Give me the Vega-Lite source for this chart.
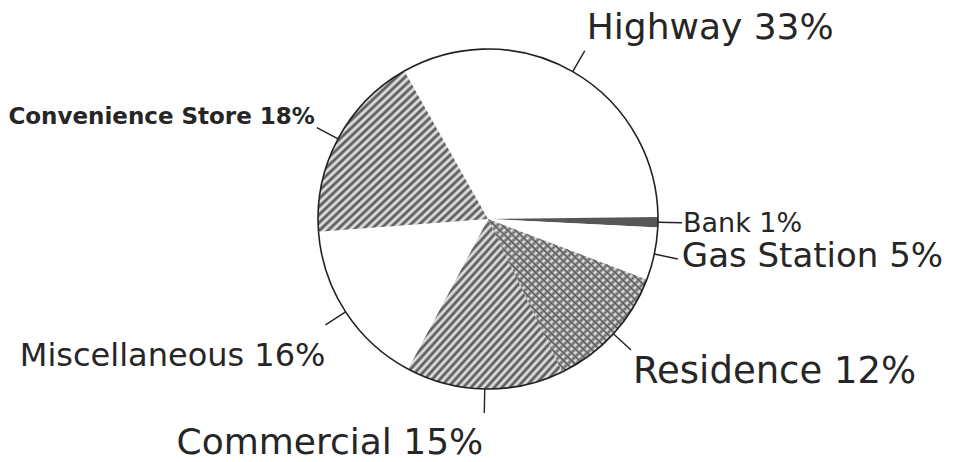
{
  "$schema": "https://vega.github.io/schema/vega-lite/v6.json",
  "width": 930,
  "height": 438,
  "autosize": "none",
  "padding": {"left": 23, "top": 0, "right": 0, "bottom": 24},
  "background": "white",
  "view": {"stroke": null},
  "data": {
    "values": [
      {"category": "Highway", "value": 33, "label": "Highway 33%", "rank": 1},
      {"category": "Bank", "value": 1, "label": "Bank 1%", "rank": 2},
      {"category": "Gas Station", "value": 5, "label": "Gas Station 5%", "rank": 3},
      {"category": "Residence", "value": 12, "label": "Residence 12%", "rank": 4},
      {"category": "Commercial", "value": 15, "label": "Commercial 15%", "rank": 5},
      {"category": "Miscellaneous", "value": 16, "label": "Miscellaneous 16%", "rank": 6},
      {"category": "Convenience Store", "value": 18, "label": "Convenience Store 18%", "rank": 7}
    ]
  },
  "encoding": {
    "theta": {"field": "value", "type": "quantitative", "stack": true, "scale": {"range": [-0.5149, 5.7683]}},
    "order": {"field": "rank", "type": "quantitative"}
  },
  "layer": [
    {
      "mark": {"type": "arc", "outerRadius": 170},
      "encoding": {
        "fill": {
          "condition": [
            {"test": "datum.category === 'Bank'", "value": "#575757"},
            {"test": "indexof(['Convenience Store','Commercial','Residence'], datum.category) >= 0", "value": {"gradient": "linear", "x1": 0, "y1": 0, "x2": 1, "y2": 1, "stops": [
              {"offset": 0, "color": "#4a4a4a"}, {"offset": 0.0125, "color": "#f2f2f2"}, {"offset": 0.025, "color": "#4a4a4a"}, {"offset": 0.0375, "color": "#f2f2f2"},
              {"offset": 0.05, "color": "#4a4a4a"}, {"offset": 0.0625, "color": "#f2f2f2"}, {"offset": 0.075, "color": "#4a4a4a"}, {"offset": 0.0875, "color": "#f2f2f2"},
              {"offset": 0.1, "color": "#4a4a4a"}, {"offset": 0.1125, "color": "#f2f2f2"}, {"offset": 0.125, "color": "#4a4a4a"}, {"offset": 0.1375, "color": "#f2f2f2"},
              {"offset": 0.15, "color": "#4a4a4a"}, {"offset": 0.1625, "color": "#f2f2f2"}, {"offset": 0.175, "color": "#4a4a4a"}, {"offset": 0.1875, "color": "#f2f2f2"},
              {"offset": 0.2, "color": "#4a4a4a"}, {"offset": 0.2125, "color": "#f2f2f2"}, {"offset": 0.225, "color": "#4a4a4a"}, {"offset": 0.2375, "color": "#f2f2f2"},
              {"offset": 0.25, "color": "#4a4a4a"}, {"offset": 0.2625, "color": "#f2f2f2"}, {"offset": 0.275, "color": "#4a4a4a"}, {"offset": 0.2875, "color": "#f2f2f2"},
              {"offset": 0.3, "color": "#4a4a4a"}, {"offset": 0.3125, "color": "#f2f2f2"}, {"offset": 0.325, "color": "#4a4a4a"}, {"offset": 0.3375, "color": "#f2f2f2"},
              {"offset": 0.35, "color": "#4a4a4a"}, {"offset": 0.3625, "color": "#f2f2f2"}, {"offset": 0.375, "color": "#4a4a4a"}, {"offset": 0.3875, "color": "#f2f2f2"},
              {"offset": 0.4, "color": "#4a4a4a"}, {"offset": 0.4125, "color": "#f2f2f2"}, {"offset": 0.425, "color": "#4a4a4a"}, {"offset": 0.4375, "color": "#f2f2f2"},
              {"offset": 0.45, "color": "#4a4a4a"}, {"offset": 0.4625, "color": "#f2f2f2"}, {"offset": 0.475, "color": "#4a4a4a"}, {"offset": 0.4875, "color": "#f2f2f2"},
              {"offset": 0.5, "color": "#4a4a4a"}, {"offset": 0.5125, "color": "#f2f2f2"}, {"offset": 0.525, "color": "#4a4a4a"}, {"offset": 0.5375, "color": "#f2f2f2"},
              {"offset": 0.55, "color": "#4a4a4a"}, {"offset": 0.5625, "color": "#f2f2f2"}, {"offset": 0.575, "color": "#4a4a4a"}, {"offset": 0.5875, "color": "#f2f2f2"},
              {"offset": 0.6, "color": "#4a4a4a"}, {"offset": 0.6125, "color": "#f2f2f2"}, {"offset": 0.625, "color": "#4a4a4a"}, {"offset": 0.6375, "color": "#f2f2f2"},
              {"offset": 0.65, "color": "#4a4a4a"}, {"offset": 0.6625, "color": "#f2f2f2"}, {"offset": 0.675, "color": "#4a4a4a"}, {"offset": 0.6875, "color": "#f2f2f2"},
              {"offset": 0.7, "color": "#4a4a4a"}, {"offset": 0.7125, "color": "#f2f2f2"}, {"offset": 0.725, "color": "#4a4a4a"}, {"offset": 0.7375, "color": "#f2f2f2"},
              {"offset": 0.75, "color": "#4a4a4a"}, {"offset": 0.7625, "color": "#f2f2f2"}, {"offset": 0.775, "color": "#4a4a4a"}, {"offset": 0.7875, "color": "#f2f2f2"},
              {"offset": 0.8, "color": "#4a4a4a"}, {"offset": 0.8125, "color": "#f2f2f2"}, {"offset": 0.825, "color": "#4a4a4a"}, {"offset": 0.8375, "color": "#f2f2f2"},
              {"offset": 0.85, "color": "#4a4a4a"}, {"offset": 0.8625, "color": "#f2f2f2"}, {"offset": 0.875, "color": "#4a4a4a"}, {"offset": 0.8875, "color": "#f2f2f2"},
              {"offset": 0.9, "color": "#4a4a4a"}, {"offset": 0.9125, "color": "#f2f2f2"}, {"offset": 0.925, "color": "#4a4a4a"}, {"offset": 0.9375, "color": "#f2f2f2"},
              {"offset": 0.95, "color": "#4a4a4a"}, {"offset": 0.9625, "color": "#f2f2f2"}, {"offset": 0.975, "color": "#4a4a4a"}, {"offset": 0.9875, "color": "#f2f2f2"},
              {"offset": 1, "color": "#4a4a4a"}
            ]}}
          ],
          "value": "white"
        }
      }
    },
    {
      "mark": {"type": "arc", "outerRadius": 170},
      "encoding": {
        "fill": {
          "condition": {"test": "datum.category === 'Residence'", "value": {"gradient": "linear", "x1": 0, "y1": 1, "x2": 1, "y2": 0, "stops": [
            {"offset": 0, "color": "#4a4a4a"}, {"offset": 0.0125, "color": "rgba(255,255,255,0)"}, {"offset": 0.025, "color": "#4a4a4a"}, {"offset": 0.0375, "color": "rgba(255,255,255,0)"},
            {"offset": 0.05, "color": "#4a4a4a"}, {"offset": 0.0625, "color": "rgba(255,255,255,0)"}, {"offset": 0.075, "color": "#4a4a4a"}, {"offset": 0.0875, "color": "rgba(255,255,255,0)"},
            {"offset": 0.1, "color": "#4a4a4a"}, {"offset": 0.1125, "color": "rgba(255,255,255,0)"}, {"offset": 0.125, "color": "#4a4a4a"}, {"offset": 0.1375, "color": "rgba(255,255,255,0)"},
            {"offset": 0.15, "color": "#4a4a4a"}, {"offset": 0.1625, "color": "rgba(255,255,255,0)"}, {"offset": 0.175, "color": "#4a4a4a"}, {"offset": 0.1875, "color": "rgba(255,255,255,0)"},
            {"offset": 0.2, "color": "#4a4a4a"}, {"offset": 0.2125, "color": "rgba(255,255,255,0)"}, {"offset": 0.225, "color": "#4a4a4a"}, {"offset": 0.2375, "color": "rgba(255,255,255,0)"},
            {"offset": 0.25, "color": "#4a4a4a"}, {"offset": 0.2625, "color": "rgba(255,255,255,0)"}, {"offset": 0.275, "color": "#4a4a4a"}, {"offset": 0.2875, "color": "rgba(255,255,255,0)"},
            {"offset": 0.3, "color": "#4a4a4a"}, {"offset": 0.3125, "color": "rgba(255,255,255,0)"}, {"offset": 0.325, "color": "#4a4a4a"}, {"offset": 0.3375, "color": "rgba(255,255,255,0)"},
            {"offset": 0.35, "color": "#4a4a4a"}, {"offset": 0.3625, "color": "rgba(255,255,255,0)"}, {"offset": 0.375, "color": "#4a4a4a"}, {"offset": 0.3875, "color": "rgba(255,255,255,0)"},
            {"offset": 0.4, "color": "#4a4a4a"}, {"offset": 0.4125, "color": "rgba(255,255,255,0)"}, {"offset": 0.425, "color": "#4a4a4a"}, {"offset": 0.4375, "color": "rgba(255,255,255,0)"},
            {"offset": 0.45, "color": "#4a4a4a"}, {"offset": 0.4625, "color": "rgba(255,255,255,0)"}, {"offset": 0.475, "color": "#4a4a4a"}, {"offset": 0.4875, "color": "rgba(255,255,255,0)"},
            {"offset": 0.5, "color": "#4a4a4a"}, {"offset": 0.5125, "color": "rgba(255,255,255,0)"}, {"offset": 0.525, "color": "#4a4a4a"}, {"offset": 0.5375, "color": "rgba(255,255,255,0)"},
            {"offset": 0.55, "color": "#4a4a4a"}, {"offset": 0.5625, "color": "rgba(255,255,255,0)"}, {"offset": 0.575, "color": "#4a4a4a"}, {"offset": 0.5875, "color": "rgba(255,255,255,0)"},
            {"offset": 0.6, "color": "#4a4a4a"}, {"offset": 0.6125, "color": "rgba(255,255,255,0)"}, {"offset": 0.625, "color": "#4a4a4a"}, {"offset": 0.6375, "color": "rgba(255,255,255,0)"},
            {"offset": 0.65, "color": "#4a4a4a"}, {"offset": 0.6625, "color": "rgba(255,255,255,0)"}, {"offset": 0.675, "color": "#4a4a4a"}, {"offset": 0.6875, "color": "rgba(255,255,255,0)"},
            {"offset": 0.7, "color": "#4a4a4a"}, {"offset": 0.7125, "color": "rgba(255,255,255,0)"}, {"offset": 0.725, "color": "#4a4a4a"}, {"offset": 0.7375, "color": "rgba(255,255,255,0)"},
            {"offset": 0.75, "color": "#4a4a4a"}, {"offset": 0.7625, "color": "rgba(255,255,255,0)"}, {"offset": 0.775, "color": "#4a4a4a"}, {"offset": 0.7875, "color": "rgba(255,255,255,0)"},
            {"offset": 0.8, "color": "#4a4a4a"}, {"offset": 0.8125, "color": "rgba(255,255,255,0)"}, {"offset": 0.825, "color": "#4a4a4a"}, {"offset": 0.8375, "color": "rgba(255,255,255,0)"},
            {"offset": 0.85, "color": "#4a4a4a"}, {"offset": 0.8625, "color": "rgba(255,255,255,0)"}, {"offset": 0.875, "color": "#4a4a4a"}, {"offset": 0.8875, "color": "rgba(255,255,255,0)"},
            {"offset": 0.9, "color": "#4a4a4a"}, {"offset": 0.9125, "color": "rgba(255,255,255,0)"}, {"offset": 0.925, "color": "#4a4a4a"}, {"offset": 0.9375, "color": "rgba(255,255,255,0)"},
            {"offset": 0.95, "color": "#4a4a4a"}, {"offset": 0.9625, "color": "rgba(255,255,255,0)"}, {"offset": 0.975, "color": "#4a4a4a"}, {"offset": 0.9875, "color": "rgba(255,255,255,0)"},
            {"offset": 1, "color": "#4a4a4a"}
          ]}},
          "value": "transparent"
        }
      }
    },
    {
      "mark": {"type": "arc", "innerRadius": 170, "outerRadius": 170, "filled": false, "stroke": "#222222", "strokeWidth": 1.6}
    },
    {
      "mark": {"type": "arc", "innerRadius": 170, "outerRadius": 194, "padAngle": 3.14, "filled": false, "stroke": "#222222", "strokeWidth": 1.4}
    },
    {
      "mark": {"type": "text", "radius": 194, "align": "left", "baseline": "alphabetic", "dx": 2, "dy": -12, "font": "DejaVu Sans", "fontSize": 36, "fill": "#262626"},
      "encoding": {"text": {"condition": {"test": "datum.category === 'Highway'", "field": "label"}, "value": ""}}
    },
    {
      "mark": {"type": "text", "radius": 194, "align": "left", "baseline": "alphabetic", "dx": 1, "dy": 9, "font": "DejaVu Sans", "fontSize": 27, "fill": "#262626"},
      "encoding": {"text": {"condition": {"test": "datum.category === 'Bank'", "field": "label"}, "value": ""}}
    },
    {
      "mark": {"type": "text", "radius": 194, "align": "left", "baseline": "alphabetic", "dx": 4, "dy": 8, "font": "DejaVu Sans", "fontSize": 34, "fill": "#262626"},
      "encoding": {"text": {"condition": {"test": "datum.category === 'Gas Station'", "field": "label"}, "value": ""}}
    },
    {
      "mark": {"type": "text", "radius": 194, "align": "left", "baseline": "alphabetic", "dx": 2, "dy": 33, "font": "DejaVu Sans", "fontSize": 37, "fill": "#262626"},
      "encoding": {"text": {"condition": {"test": "datum.category === 'Residence'", "field": "label"}, "value": ""}}
    },
    {
      "mark": {"type": "text", "radius": 194, "align": "right", "baseline": "alphabetic", "dx": -1, "dy": 41, "font": "DejaVu Sans", "fontSize": 36, "fill": "#262626"},
      "encoding": {"text": {"condition": {"test": "datum.category === 'Commercial'", "field": "label"}, "value": ""}}
    },
    {
      "mark": {"type": "text", "radius": 194, "align": "right", "baseline": "alphabetic", "dx": 0, "dy": 41, "font": "DejaVu Sans", "fontSize": 32, "fill": "#262626"},
      "encoding": {"text": {"condition": {"test": "datum.category === 'Miscellaneous'", "field": "label"}, "value": ""}}
    },
    {
      "mark": {"type": "text", "radius": 194, "align": "right", "baseline": "alphabetic", "dx": -2, "dy": -4, "font": "DejaVu Sans", "fontSize": 23, "fontWeight": "bold", "fill": "#262626"},
      "encoding": {"text": {"condition": {"test": "datum.category === 'Convenience Store'", "field": "label"}, "value": ""}}
    }
  ]
}
